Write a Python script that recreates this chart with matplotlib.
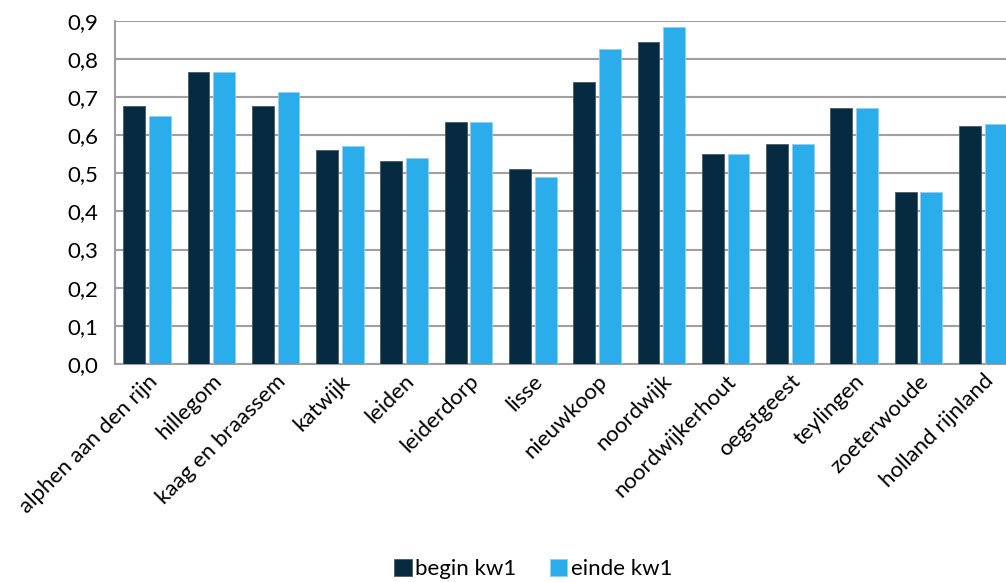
import numpy as np
import matplotlib.pyplot as plt

gemeenten = ["alphen aan den rijn", "hillegom", "kaag en braassem", "katwijk", "leiden",
             "leiderdorp", "lisse", "nieuwkoop", "noordwijk", "noordwijkerhout",
             "oegstgeest", "teylingen", "zoeterwoude", "holland rijnland"]
begin_kw1 = [0.677, 0.766, 0.676, 0.562, 0.531, 0.635, 0.510, 0.739, 0.843, 0.551,
             0.577, 0.672, 0.452, 0.625]
einde_kw1 = [0.651, 0.766, 0.713, 0.572, 0.541, 0.635, 0.489, 0.827, 0.884, 0.551,
             0.577, 0.672, 0.452, 0.630]
yticks = [0.0, 0.1, 0.2, 0.3, 0.4, 0.5, 0.6, 0.7, 0.8, 0.9]

plt.rcParams['font.family'] = ['Lato', 'DejaVu Sans']

fig = plt.figure(figsize=(10.06, 5.82), dpi=100)
ax = fig.add_axes([0.1143, 0.3746, 0.8946, 0.5898])

x = np.arange(len(gemeenten))
w = 0.34
ax.bar(x - 0.2, begin_kw1, w, color="#062B40", edgecolor="#4a5a66", linewidth=0.6,
       label="begin kw1", zorder=3)
ax.bar(x + 0.2, einde_kw1, w, color="#2BACEB", edgecolor="#8fd0f2", linewidth=0.6,
       label="einde kw1", zorder=3)

ax.set_xlim(-0.5, len(gemeenten) - 0.5)
ax.set_ylim(0, 0.9)
ax.set_yticks(yticks)
ax.set_yticklabels([f"{v:.1f}".replace(".", ",") for v in yticks], fontsize=16)
ax.set_xticks(x)
ax.set_xticklabels(gemeenten, rotation=45, ha="right", rotation_mode="anchor", fontsize=16)
ax.tick_params(length=0, pad=12)
ax.tick_params(axis="x", pad=5)

ax.grid(axis="y", color="#A0A0A0", linewidth=1.5, zorder=0)
for s in ["top", "right"]:
    ax.spines[s].set_visible(False)
for s in ["left", "bottom"]:
    ax.spines[s].set_color("#A0A0A0")
    ax.spines[s].set_linewidth(1.5)

fig.legend(loc="lower center", bbox_to_anchor=(0.53, -0.03), ncol=2, frameon=False,
           fontsize=16, handlelength=0.8, handleheight=0.8, handletextpad=0.15,
           columnspacing=1.5)

fig.savefig("out.png", dpi=100)
